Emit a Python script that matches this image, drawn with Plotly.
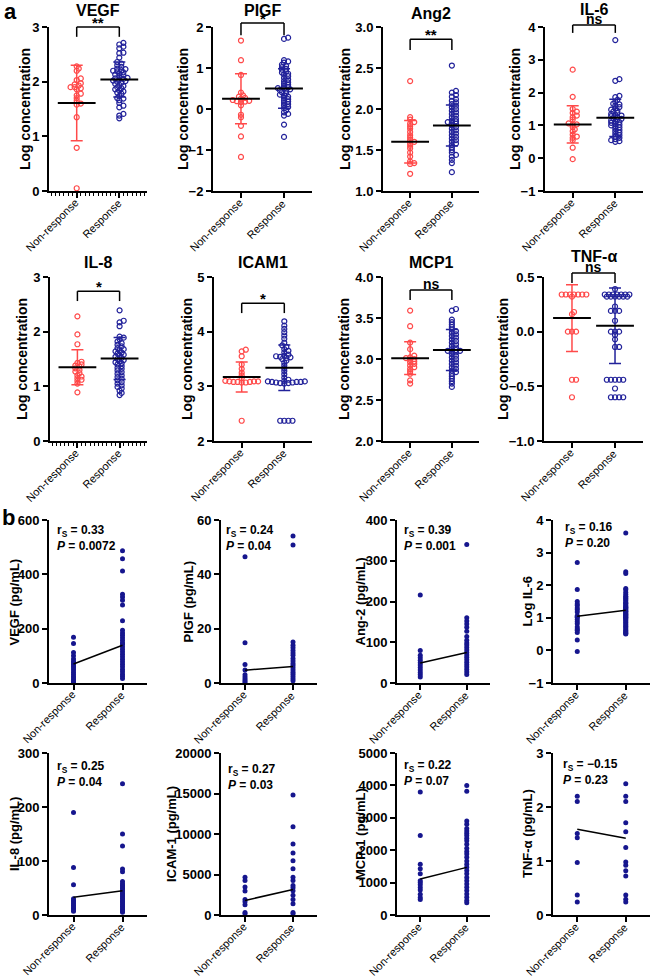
import numpy as np
import plotly.graph_objects as go

W, H = 662, 980
FONT = "Arial, 'Liberation Sans', Helvetica, sans-serif"
RED = "#FF4A4A"
BLUE = "#22229A"
NAVY = "#16168E"
GROUPS = ["Non-response", "Response"]

# ---------------- panel a : log concentration ----------------
A_NAMES = ["VEGF", "PIGF", "Ang2", "IL-6", "IL-8", "ICAM1", "MCP1", "TNF-α"]

VEGF_NON = [2.28, 2.24, 2.2, 2.06, 2.03, 1.97, 1.95, 1.93, 1.9, 1.9, 1.88, 1.86,
            1.78, 1.75, 1.7, 1.65, 1.6, 1.58, 1.35, 0.79, 0.05]
VEGF_RESP = [2.71, 2.68, 2.64, 2.61, 2.53, 2.52, 2.44, 2.36, 2.33, 2.3, 2.27, 2.24,
             2.23, 2.21, 2.2, 2.19, 2.17, 2.15, 2.13, 2.12, 2.1, 2.07, 2.06, 2.05,
             2.04, 2.02, 2.01, 2.0, 1.98, 1.96, 1.94, 1.92, 1.9, 1.88, 1.86, 1.84,
             1.82, 1.8, 1.78, 1.74, 1.7, 1.69, 1.66, 1.61, 1.56, 1.53, 1.41, 1.38, 1.33]
PIGF_NON = [1.67, 1.19, 0.83, 0.4, 0.33, 0.3, 0.27, 0.25, 0.22, 0.2, 0.19, 0.18,
            0.17, 0.09, -0.14, -0.2, -0.41, -0.67, -1.17]
PIGF_RESP = [1.74, 1.71, 1.19, 1.16, 1.13, 1.08, 1.05, 1.02, 0.98, 0.96, 0.92, 0.89,
             0.86, 0.84, 0.8, 0.76, 0.72, 0.68, 0.65, 0.62, 0.59, 0.56, 0.53, 0.51,
             0.5, 0.48, 0.46, 0.44, 0.41, 0.38, 0.35, 0.33, 0.3, 0.27, 0.24, 0.21,
             0.18, 0.15, 0.12, 0.09, 0.05, 0.02, -0.03, -0.08, -0.12, -0.16, -0.38, -0.68]
ANG2_NON = [2.34, 1.9, 1.87, 1.84, 1.82, 1.79, 1.76, 1.72, 1.68, 1.65, 1.62, 1.6,
            1.58, 1.55, 1.52, 1.47, 1.42, 1.36, 1.34, 1.33, 1.21]
ANG2_RESP = [2.53, 2.22, 2.2, 2.17, 2.15, 2.12, 2.1, 2.08, 2.06, 2.04, 2.02, 2.0,
             1.98, 1.96, 1.94, 1.92, 1.9, 1.88, 1.86, 1.85, 1.84, 1.83, 1.82, 1.8,
             1.78, 1.76, 1.74, 1.72, 1.7, 1.68, 1.66, 1.64, 1.62, 1.6, 1.58, 1.56,
             1.53, 1.5, 1.47, 1.44, 1.42, 1.38, 1.34, 1.23]
IL6_NON = [2.7, 1.87, 1.5, 1.42, 1.38, 1.3, 1.25, 1.18, 1.06, 1.03, 1.02, 0.95,
           0.88, 0.82, 0.72, 0.66, 0.62, 0.55, 0.32, -0.03]
IL6_RESP = [3.6, 2.41, 2.36, 1.9, 1.86, 1.78, 1.72, 1.66, 1.64, 1.6, 1.56, 1.52,
            1.48, 1.45, 1.42, 1.38, 1.35, 1.32, 1.3, 1.28, 1.25, 1.22, 1.2, 1.18,
            1.15, 1.12, 1.1, 1.08, 1.05, 1.02, 1.0, 0.97, 0.94, 0.9, 0.86, 0.82,
            0.78, 0.74, 0.7, 0.66, 0.62, 0.58, 0.55, 0.52, 0.5]
IL8_NON = [2.28, 1.95, 1.77, 1.45, 1.43, 1.4, 1.38, 1.36, 1.33, 1.3, 1.27, 1.24,
           1.2, 1.18, 1.15, 1.12, 1.1, 1.05, 0.89]
IL8_RESP = [2.39, 2.2, 2.17, 2.1, 1.91, 1.89, 1.86, 1.82, 1.79, 1.76, 1.73, 1.7,
            1.68, 1.66, 1.64, 1.62, 1.6, 1.58, 1.56, 1.54, 1.52, 1.5, 1.48, 1.46,
            1.44, 1.42, 1.4, 1.37, 1.34, 1.32, 1.29, 1.26, 1.23, 1.2, 1.17, 1.14,
            1.11, 1.08, 1.05, 1.02, 0.99, 0.96, 0.92, 0.88, 0.84]
ICAM1_NON = [3.67, 3.64, 3.55, 3.4, 3.32, 3.25, 3.2, 3.15, 3.1, 3.09, 3.09, 3.09,
             3.08, 3.08, 3.08, 3.07, 3.07, 2.37]
ICAM1_RESP = [4.19, 4.11, 4.05, 3.99, 3.93, 3.87, 3.8, 3.75, 3.72, 3.68, 3.65, 3.62,
              3.58, 3.56, 3.55, 3.54, 3.53, 3.52, 3.5, 3.47, 3.43, 3.38, 3.33, 3.28,
              3.22, 3.16, 3.12, 3.1, 3.09, 3.09, 3.08, 3.08, 3.08, 3.07, 3.07,
              3.06, 3.06, 3.05, 2.37, 2.37, 2.37, 2.37]
MCP1_NON = [3.59, 3.4, 3.2, 3.12, 3.04, 3.02, 3.01, 3.0, 2.99, 2.97, 2.96, 2.94,
            2.92, 2.9, 2.88, 2.85, 2.82, 2.74, 2.7]
MCP1_RESP = [3.61, 3.59, 3.48, 3.45, 3.42, 3.39, 3.36, 3.34, 3.32, 3.3, 3.28, 3.26,
             3.24, 3.22, 3.2, 3.18, 3.16, 3.14, 3.12, 3.11, 3.1, 3.1, 3.09, 3.08,
             3.06, 3.04, 3.02, 3.0, 2.98, 2.96, 2.94, 2.92, 2.9, 2.88, 2.86, 2.84,
             2.82, 2.79, 2.76, 2.73, 2.7, 2.66]
TNF_NON = [0.34, 0.34, 0.34, 0.34, 0.34, 0.34, 0.34, 0.32, 0.18, 0.16,
           0.0, 0.0, 0.0, -0.44, -0.44, -0.6]
TNF_RESP = [0.39, 0.34, 0.34, 0.34, 0.34, 0.34, 0.34, 0.34, 0.32, 0.32, 0.32,
            0.32, 0.32, 0.32, 0.23, 0.19, 0.19, 0.19, 0.1, 0.0, 0.0, 0.0, -0.03,
            -0.07, -0.14, -0.14, -0.44, -0.44, -0.44, -0.44, -0.44, -0.52,
            -0.6, -0.6, -0.6, -0.6]

A_NON = [VEGF_NON, PIGF_NON, ANG2_NON, IL6_NON, IL8_NON, ICAM1_NON, MCP1_NON, TNF_NON]
A_RESP = [VEGF_RESP, PIGF_RESP, ANG2_RESP, IL6_RESP, IL8_RESP, ICAM1_RESP, MCP1_RESP, TNF_RESP]
A_MEAN_NON = [1.61, 0.25, 1.60, 1.03, 1.35, 3.17, 3.01, 0.124]
A_SD_NON = [0.69, 0.61, 0.26, 0.57, 0.32, 0.275, 0.20, 0.305]
A_MEAN_RESP = [2.04, 0.50, 1.80, 1.23, 1.51, 3.34, 3.11, 0.054]
A_SD_RESP = [0.32, 0.48, 0.25, 0.57, 0.385, 0.415, 0.25, 0.345]
A_SIG = ["**", "*", "**", "ns", "*", "*", "ns", "ns"]

# ---------------- panel b : concentrations ----------------
B_YTITLES = ["VEGF (pg/mL)", "PIGF (pg/mL)", "Ang-2 (pg/mL)", "Log IL-6",
             "IL-8 (pg/mL)", "ICAM-1 (pg/mL)", "MCP-1 (pg/mL)", "TNF-α (pg/mL)"]
VEGF_PG_NON = [168, 145, 112, 100, 88, 80, 74, 68, 62, 55, 48, 40, 32, 25, 18, 12, 6, 2]
VEGF_PG_RESP = [487, 457, 412, 327, 317, 305, 287, 229, 194, 184, 176, 167, 157, 148,
                143, 133, 124, 115, 106, 97, 87, 78, 69, 60, 50, 41, 32, 25, 17]
PIGF_PG_NON = [46.5, 14.8, 6.8, 4.8, 3.0, 2.2, 1.5, 0.8, 0.3]
PIGF_PG_RESP = [54.1, 50.8, 15.1, 13.9, 13.0, 12.0, 11.0, 10.2, 9.0, 8.1, 7.2, 6.4,
                5.6, 4.8, 4.0, 3.2, 2.4, 1.6, 0.8]
ANG2_PG_NON = [216, 80, 68, 62, 56, 50, 44, 38, 32, 26, 20, 15]
ANG2_PG_RESP = [340, 160, 152, 145, 137, 127, 114, 105, 98, 93, 87, 81, 75, 69, 63,
                57, 51, 45, 39, 33, 27, 21]
IL8_PG_NON = [190, 88, 56, 30, 27, 24, 21, 18, 15, 12, 9, 7]
IL8_PG_RESP = [243, 150, 128, 85, 80, 62, 58, 55, 52, 49, 46, 43, 40, 37, 34, 31, 28,
               25, 22, 19, 16, 13, 10, 7, 5]
ICAM1_PG_NON = [4650, 4250, 3450, 2950, 1900, 1650, 1250, 300, 150]
ICAM1_PG_RESP = [14800, 10900, 8750, 7650, 6700, 5700, 4650, 4250, 3650, 3350, 3000,
                 2450, 1900, 1400, 300, 150]
MCP1_PG_NON = [3800, 2450, 1570, 1430, 1270, 1060, 1000, 930, 850, 770, 640, 540, 480]
MCP1_PG_RESP = [4000, 3820, 2900, 2800, 2670, 2590, 2520, 2450, 2370, 2290, 2180,
                2060, 1960, 1880, 1780, 1670, 1570, 1470, 1370, 1270, 1160, 1060, 960,
                860, 755, 650, 550, 450, 380]
TNF_PG_NON = [2.2, 2.1, 1.51, 1.43, 0.97, 0.37, 0.24]
TNF_PG_RESP = [2.43, 2.2, 2.1, 1.71, 1.54, 1.25, 0.98, 0.92, 0.82, 0.72, 0.37, 0.29, 0.24]

B_NON = [VEGF_PG_NON, PIGF_PG_NON, ANG2_PG_NON, IL6_NON, IL8_PG_NON, ICAM1_PG_NON,
         MCP1_PG_NON, TNF_PG_NON]
B_RESP = [VEGF_PG_RESP, PIGF_PG_RESP, ANG2_PG_RESP, IL6_RESP, IL8_PG_RESP,
          ICAM1_PG_RESP, MCP1_PG_RESP, TNF_PG_RESP]
B_MEAN_NON = [70, 4.7, 49, 1.05, 33, 1800, 1110, 1.59]
B_MEAN_RESP = [139, 6.1, 75, 1.23, 45, 3140, 1470, 1.42]
B_RS = ["0.33", "0.24", "0.39", "0.16", "0.25", "0.27", "0.22", "\u22120.15"]
B_P = ["0.0072", "0.04", "0.001", "0.20", "0.04", "0.03", "0.07", "0.23"]

# ---------------- layout configuration (pixels / axis settings) ----------------
A_YRANGE = [[0, 3], [-2, 2], [1, 3], [-1, 4], [0, 3], [2, 5], [2, 4], [-1, 0.5]]
A_DTICK = [1, 1, 0.5, 1, 1, 1, 0.5, 0.5]
A_TFMT = ["d", "d", ".1f", "d", "d", "d", ".1f", ".1f"]
A_COLS = [[(49, 147), (213, 312), (383, 479), (545, 643)],
          [(50, 147), (214, 312), (383, 479), (544, 643)]]
A_ROWS = [(27, 191), (277, 441)]
A_TITLE_Y = [10, 10, 13, 9, 262, 262, 262, 256]
A_YT_SHIFT = [-24, -30, -38, -30, -28, -27, -39, -41]
A_BRACKET = [(3.0, 2.82), (2.1, 1.8), (2.85, 2.72), (4.06, 3.82),
             (2.74, 2.56), (4.52, 4.34), (3.84, 3.72), (0.537, 0.445)]
A_XR = [-0.65, 1.65]

B_YRANGE = [[0, 600], [0, 60], [0, 400], [-1, 4], [0, 300], [0, 20000], [0, 5000], [0, 3]]
B_DTICK = [200, 20, 100, 1, 100, 5000, 1000, 1]
B_COLS = [(49, 147), (221, 317), (397, 490), (553, 650)]
B_ROWS = [(520, 683), (753, 915)]
B_YT_SHIFT = [-35, -33, -37, -26, -35, -50, -37, -26]
B_TXT_SHIFT = [6, 3, 5, 10, 6, 5, 5, 8]
B_TXT_Y = [-1, -1, -1, 2, -4, -7, -3, -2]
B_XR = [-0.5, 1.5]

XLAB_DX, XLAB_DY = 7, -3   # pixel nudges of the rotated category labels
XLAB_SIZE = 11


def swarm(vals, ypx, xpx, d=4.1, yfac=1.8):
    v = np.asarray(vals, float)
    order = np.argsort(v)
    cands = [0.0]
    for j in range(1, 80):
        cands += [j * d / 2, -j * d / 2]
    pts, off = [], np.zeros(len(v))
    for i in order:
        y = v[i] * ypx
        for c in cands:
            if all((c - px) ** 2 + (yfac * (y - py)) ** 2 >= d * d * 0.98 for px, py in pts):
                break
        pts.append((c, y))
        off[i] = c / xpx
    return off


fig = go.Figure()
layout = dict(width=W, height=H, margin=dict(l=0, r=0, t=0, b=0, autoexpand=False),
              template="none",
              paper_bgcolor="white", plot_bgcolor="white", showlegend=False,
              font=dict(family=FONT, color="black"))
annotations, shapes = [], []


def frac(v, r):
    return (v - r[0]) / (r[1] - r[0])


def axis_base():
    return dict(showline=True, linecolor="black", linewidth=2, ticks="outside",
                ticklen=5, tickwidth=2, tickcolor="black", showgrid=False,
                zeroline=False, fixedrange=True, automargin=False)


def names(k):
    s = "" if k == 1 else str(k)
    return "x" + s, "y" + s, "xaxis" + s, "yaxis" + s


def category_labels(xs, ys, xr):
    for g, lab in enumerate(GROUPS):
        annotations.append(dict(text=lab, xref=f"{xs} domain", yref=f"{ys} domain",
                                x=frac(g, xr), y=0, xanchor="right", yanchor="top",
                                xshift=XLAB_DX, yshift=XLAB_DY, textangle=-45,
                                showarrow=False, font=dict(size=XLAB_SIZE)))


k = 0
# ---- panel a ----
for i in range(8):
    k += 1
    r, c = divmod(i, 4)
    x0, x1 = A_COLS[r][c]
    top, bot = A_ROWS[r]
    yr = A_YRANGE[i]
    xs, ys, xk, yk = names(k)
    xa = axis_base()
    xa.update(domain=[x0 / W, x1 / W], range=A_XR, anchor=ys, tickmode="array",
              tickvals=[0, 1], showticklabels=False)
    if yr[0] == 0:
        xa["minor"] = dict(tickmode="linear", tick0=0, dtick=0.1, ticks="outside",
                           ticklen=3, tickwidth=1, tickcolor="black")
    ya = axis_base()
    ya.update(domain=[1 - bot / H, 1 - top / H], range=yr, anchor=xs,
              tickmode="linear", tick0=yr[0], dtick=A_DTICK[i], tickformat=A_TFMT[i],
              tickfont=dict(size=13, family=FONT, weight="bold"))
    layout[xk] = xa
    layout[yk] = ya
    category_labels(xs, ys, A_XR)

    ypx = (bot - top) / (yr[1] - yr[0])
    xpx = (x1 - x0) / (A_XR[1] - A_XR[0])
    for g, (vals, col) in enumerate([(A_NON[i], RED), (A_RESP[i], BLUE)]):
        off = swarm(vals, ypx, xpx)
        fig.add_trace(go.Scatter(x=g + off, y=vals, xaxis=xs, yaxis=ys, mode="markers",
                                 cliponaxis=False, hoverinfo="skip",
                                 marker=dict(symbol="circle-open", size=5, color=col,
                                             line=dict(width=1.2, color=col))))
    for g, (m, sd, col) in enumerate([(A_MEAN_NON[i], A_SD_NON[i], RED),
                                      (A_MEAN_RESP[i], A_SD_RESP[i], BLUE)]):
        fig.add_trace(go.Scatter(x=[g], y=[m], xaxis=xs, yaxis=ys, mode="markers",
                                 cliponaxis=False, hoverinfo="skip",
                                 marker=dict(size=1, opacity=0),
                                 error_y=dict(type="data", array=[sd], color=col,
                                              thickness=1.5, width=6)))
    fig.add_trace(go.Scatter(x=[0, 1], y=[A_MEAN_NON[i], A_MEAN_RESP[i]], xaxis=xs,
                             yaxis=ys, mode="markers", cliponaxis=False, hoverinfo="skip",
                             marker=dict(symbol="line-ew", size=27,
                                         line=dict(width=2, color="black"))))
    # significance bracket
    btop, bleg = A_BRACKET[i]
    fx0, fx1 = frac(0, A_XR), frac(1, A_XR)
    ft, fl = frac(btop, yr), frac(bleg, yr)
    for (a, b_, c_, d_) in [(fx0, fl, fx0, ft), (fx0, ft, fx1, ft), (fx1, ft, fx1, fl)]:
        shapes.append(dict(type="line", xref=f"{xs} domain", yref=f"{ys} domain",
                           x0=a, y0=b_, x1=c_, y1=d_, line=dict(color="black", width=1.5)))
    star = A_SIG[i] != "ns"
    annotations.append(dict(text=A_SIG[i], xref=f"{xs} domain", yref=f"{ys} domain",
                            x=(fx0 + fx1) / 2, y=ft, yanchor="bottom", showarrow=False,
                            yshift=-6 if star else -4,
                            font=dict(size=15 if star else 14, weight="bold")))
    # panel title
    annotations.append(dict(text=A_NAMES[i], xref=f"{xs} domain", yref="paper",
                            x=0.5, y=1 - A_TITLE_Y[i] / H, yanchor="middle",
                            showarrow=False, font=dict(size=16, weight="bold")))
    annotations.append(dict(text="Log concentration", xref=f"{xs} domain",
                            yref=f"{ys} domain", x=0, y=0.5, xanchor="center",
                            yanchor="middle", xshift=A_YT_SHIFT[i], textangle=-90,
                            showarrow=False, font=dict(size=14, weight="bold")))

# ---- panel b ----
for i in range(8):
    k += 1
    r, c = divmod(i, 4)
    x0, x1 = B_COLS[c]
    top, bot = B_ROWS[r]
    yr = B_YRANGE[i]
    xs, ys, xk, yk = names(k)
    xa = axis_base()
    xa.update(domain=[x0 / W, x1 / W], range=B_XR, anchor=ys, tickmode="array",
              tickvals=[0, 1], showticklabels=False)
    ya = axis_base()
    ya.update(domain=[1 - bot / H, 1 - top / H], range=yr, anchor=xs,
              tickmode="linear", tick0=yr[0], dtick=B_DTICK[i], tickformat="d",
              tickfont=dict(size=13, family=FONT, weight="bold"))
    layout[xk] = xa
    layout[yk] = ya
    category_labels(xs, ys, B_XR)
    for g, vals in enumerate([B_NON[i], B_RESP[i]]):
        fig.add_trace(go.Scatter(x=[g] * len(vals), y=vals, xaxis=xs, yaxis=ys,
                                 mode="markers", cliponaxis=False, hoverinfo="skip",
                                 marker=dict(size=5, color=NAVY)))
    fig.add_trace(go.Scatter(x=[0, 1], y=[B_MEAN_NON[i], B_MEAN_RESP[i]], xaxis=xs,
                             yaxis=ys, mode="lines", hoverinfo="skip",
                             line=dict(color="black", width=1.5)))
    annotations.append(dict(text=f"r<sub>S</sub> = {B_RS[i]}<br><i>P</i> = {B_P[i]}",
                            xref=f"{xs} domain", yref=f"{ys} domain", x=0, y=1,
                            xanchor="left", yanchor="top", align="left",
                            xshift=B_TXT_SHIFT[i], yshift=B_TXT_Y[i], showarrow=False,
                            font=dict(size=12, weight="bold")))
    annotations.append(dict(text=B_YTITLES[i], xref=f"{xs} domain",
                            yref=f"{ys} domain", x=0, y=0.5, xanchor="center",
                            yanchor="middle", xshift=B_YT_SHIFT[i], textangle=-90,
                            showarrow=False, font=dict(size=13, weight="bold")))

annotations.append(dict(text="a", xref="paper", yref="paper", x=0.003, y=1 - 11 / H,
                        xanchor="left", yanchor="middle", showarrow=False,
                        font=dict(size=22, weight="bold")))
annotations.append(dict(text="b", xref="paper", yref="paper", x=0.0, y=1 - 517 / H,
                        xanchor="left", yanchor="middle", showarrow=False,
                        font=dict(size=22, weight="bold")))

layout["annotations"] = annotations
layout["shapes"] = shapes
fig.update_layout(**layout)
fig.write_html("out.html")
